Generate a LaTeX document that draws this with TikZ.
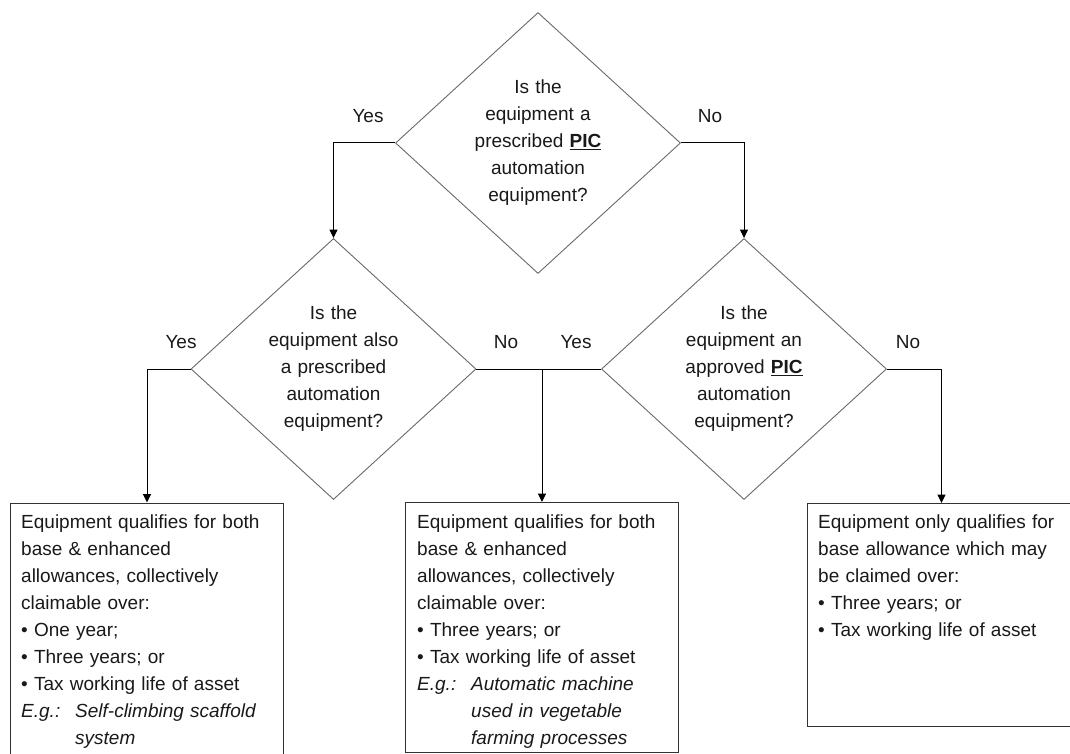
\documentclass[tikz,border=0pt]{standalone}
\usepackage{fontspec}
\setmainfont{Liberation Sans}
\usetikzlibrary{shapes.geometric,arrows.meta}
\definecolor{dgray}{RGB}{105,105,105}
\definecolor{bgray}{RGB}{50,50,50}
\definecolor{tcol}{RGB}{25,25,25}
\newcommand{\fs}{\fontsize{19}{27}\selectfont\spaceskip=6.2pt plus 1pt}
\newcommand{\eg}[1]{\makebox[54pt][l]{\itshape E.g.:}\textit{#1}}
\newcommand{\egc}[1]{\hspace*{54pt}\textit{#1}}
\begin{document}
\begin{tikzpicture}[x=1pt,y=-1pt,
  dec/.style={diamond, draw=dgray, line width=0.9pt, minimum width=285pt, minimum height=261pt, inner sep=0pt, align=center, font=\fs, text=tcol},
  box/.style={draw=bgray, line width=1pt, rectangle, inner sep=0pt, anchor=north west},
  txt/.style={anchor=north west, inner sep=0pt, align=left, font=\fs, text=tcol},
  lab/.style={font=\fs, inner sep=0pt, text=tcol},
  conn/.style={line width=1pt, -{Triangle[length=8.5pt,width=8pt]}},
  link/.style={line width=1pt}]
\useasboundingbox (0,0) rectangle (1070,754);
\clip (0,0) rectangle (1070,754);

\node[dec] (d1) at (538,143) {Is the\\equipment a\\prescribed \underline{\textbf{PIC}}\\automation\\equipment?};
\node[dec] (d2) at (333.5,369) {Is the\\equipment also\\a prescribed\\automation\\equipment?};
\node[dec] (d3) at (744,369) {Is the\\equipment an\\approved \underline{\textbf{PIC}}\\automation\\equipment?};

\node[box, minimum width=273pt, minimum height=270pt] (b1) at (10,502.5) {};
\node[box, minimum width=273pt, minimum height=250pt] (b2) at (405,502) {};
\node[box, minimum width=268pt, minimum height=223pt] (b3) at (807,503) {};

\node[txt] (t1) at (21,515) {Equipment qualifies for both\\base \& enhanced\\allowances, collectively\\claimable over:\\\textbullet\ One year;\\\textbullet\ Three years; or\\\textbullet\ Tax working life of asset\\\eg{Self-climbing scaffold}\\\egc{system}};
\node[txt] (t2) at (417,515) {Equipment qualifies for both\\base \& enhanced\\allowances, collectively\\claimable over:\\\textbullet\ Three years; or\\\textbullet\ Tax working life of asset\\\eg{Automatic machine}\\\egc{used in vegetable}\\\egc{farming processes}};
\node[txt] (t3) at (818,515) {Equipment only qualifies for\\base allowance which may\\be claimed over:\\\textbullet\ Three years; or\\\textbullet\ Tax working life of asset};

\node[lab] (y1) at (368,116) {Yes};
\node[lab] (n1) at (710,116) {No};
\node[lab] (y2) at (181,342) {Yes};
\node[lab] (n2) at (506,342) {No};
\node[lab] (y3) at (576,342) {Yes};
\node[lab] (n3) at (908,342) {No};

\draw[conn] (d1.west) -| (d2.north);
\draw[conn] (d1.east) -| (d3.north);
\draw[conn] (d2.west) -| (b1.north);
\draw[conn] (d2.east) -| (b2.north);
\draw[link] (d3.west) -- (d3.west -| b2.north);
\draw[conn] (d3.east) -| (b3.north);
\end{tikzpicture}
\end{document}
